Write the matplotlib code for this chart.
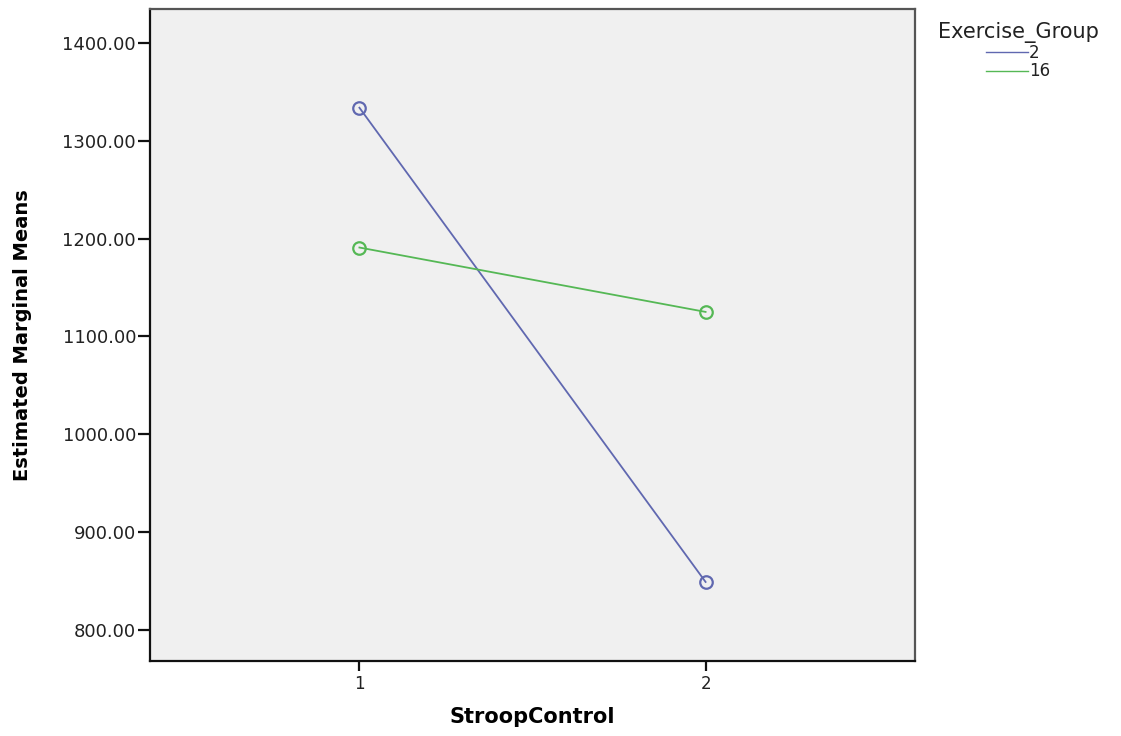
import matplotlib
matplotlib.use("Agg")
import matplotlib.pyplot as plt

# estimated marginal means
stroop_levels = [1, 2]
groups = ["2", "16"]
means_group_2 = [1333.7, 849.0]
means_group_16 = [1190.8, 1125.0]
y_ticks = [800, 900, 1000, 1100, 1200, 1300, 1400]

colors = {"2": "#6068b0", "16": "#55b855"}

fig = plt.figure(figsize=(11.21, 7.36), dpi=100)
ax = fig.add_axes([150 / 1121, 75 / 736, 765 / 1121, 652 / 736])
ax.set_facecolor("#f0f0f0")

lines = []
for g, vals in zip(groups, [means_group_2, means_group_16]):
    ln, = ax.plot(stroop_levels, vals, color=colors[g], lw=1.3,
                  marker="o", ms=9, mfc="none", mec=colors[g], mew=1.6, label=g)
    lines.append(ln)

ax.set_xlim(0.395, 2.605)
ax.set_ylim(768.2, 1434.6)
ax.set_xticks(stroop_levels)
ax.set_xticklabels([str(s) for s in stroop_levels])
ax.set_yticks(y_ticks)
ax.set_yticklabels([f"{v:.2f}" for v in y_ticks])

for side in ["left", "bottom"]:
    ax.spines[side].set_color("#111111")
    ax.spines[side].set_linewidth(1.6)
for side in ["top", "right"]:
    ax.spines[side].set_color("#555555")
    ax.spines[side].set_linewidth(1.6)

ax.tick_params(axis="y", direction="out", length=9, width=1.6, color="#111111",
               labelsize=13, labelcolor="#222222", pad=1)
ax.tick_params(axis="x", direction="out", length=7, width=1.6, color="#111111",
               labelsize=12, labelcolor="#222222", pad=3)

ax.set_ylabel("Estimated Marginal Means", fontweight="bold",
              fontsize=14, labelpad=22)
ax.set_xlabel("StroopControl", fontweight="bold",
              fontsize=15, labelpad=10)

leg = fig.legend(handles=lines, labels=groups, title="Exercise_Group",
                 loc="upper left", bbox_to_anchor=(926 / 1121, 1 - 10 / 736),
                 frameon=False, fontsize=12, title_fontsize=15,
                 handlelength=2.5, handletextpad=0.1, labelspacing=0.05,
                 borderpad=0.2)
for h in leg.legend_handles:
    h.set_marker("")
    h.set_linewidth(1.0)
for t in leg.get_texts():
    t.set_color("#222222")
leg.get_title().set_color("#222222")

fig.savefig("out.png", dpi=100, facecolor="white")
